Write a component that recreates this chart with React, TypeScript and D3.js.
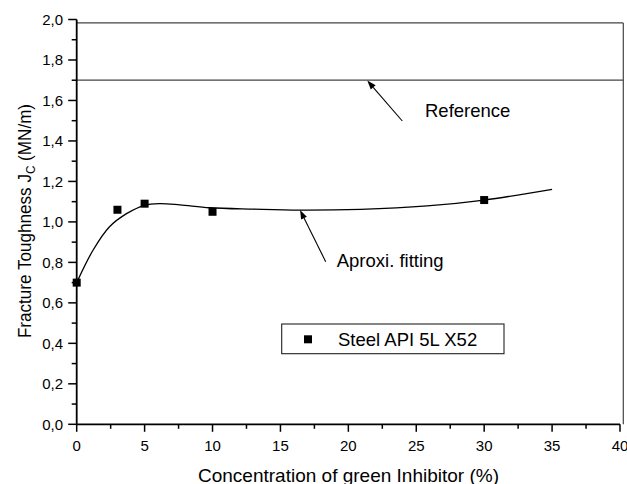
import React from "react";
import * as d3 from "d3";

const xTicks = [0, 5, 10, 15, 20, 25, 30, 35, 40];
const yTicks = [0, 0.2, 0.4, 0.6, 0.8, 1.0, 1.2, 1.4, 1.6, 1.8, 2.0];
const xMinor = [2.5, 7.5, 12.5, 17.5, 22.5, 27.5, 32.5, 37.5];
const yMinor = [0.1, 0.3, 0.5, 0.7, 0.9, 1.1, 1.3, 1.5, 1.7, 1.9];

const concentration = [0, 3, 5, 10, 30];
const toughness = [0.70, 1.06, 1.09, 1.05, 1.108];

const fitX = [0, 1.2, 2.4, 3.7, 5, 6.1, 7.6, 9.8, 13, 16.4, 20.9, 25.8, 30, 35];
const fitY = [0.70, 0.86, 0.975, 1.042, 1.082, 1.09, 1.084, 1.07, 1.063, 1.058, 1.062, 1.079, 1.108, 1.161];

const referenceValue = 1.70;
const frameTopValue = 1.983;

const FONT = "'Liberation Sans', Arial, sans-serif";

export default function App() {
  const W = 627, H = 484;
  const x = d3.scaleLinear().domain([0, 40]).range([76.7, 620]);
  const y = d3.scaleLinear().domain([0, 2]).range([424.3, 19.5]);
  const frameRight = 623.3;

  const line = d3
    .line<number>()
    .x((_, i) => x(fitX[i]))
    .y((d) => y(d))
    .curve(d3.curveCatmullRom.alpha(0.5));

  const fmt = (v: number) => v.toFixed(1).replace(".", ",");

  const arrow = (x1: number, y1: number, x2: number, y2: number) => {
    const ang = Math.atan2(y2 - y1, x2 - x1);
    const len = 9, half = 3.2;
    const bx = x2 - len * Math.cos(ang), by = y2 - len * Math.sin(ang);
    const px = -Math.sin(ang) * half, py = Math.cos(ang) * half;
    return (
      <g>
        <line x1={x1} y1={y1} x2={bx} y2={by} stroke="#000" strokeWidth={1.1} />
        <polygon points={`${x2},${y2} ${bx + px},${by + py} ${bx - px},${by - py}`} fill="#000" />
      </g>
    );
  };

  return (
    <svg width={W} height={H} style={{ position: "absolute", left: 0, top: 0, background: "#fff" }} fontFamily={FONT}>
      {/* frame lines */}
      <line x1={x(0)} x2={frameRight} y1={y(frameTopValue)} y2={y(frameTopValue)} stroke="#444" strokeWidth={1.2} />
      <line x1={frameRight} x2={frameRight} y1={y(frameTopValue)} y2={y(0)} stroke="#444" strokeWidth={1.2} />
      <line x1={x(0)} x2={frameRight} y1={y(referenceValue)} y2={y(referenceValue)} stroke="#444" strokeWidth={1.2} />

      {/* y axis */}
      <line x1={x(0)} x2={x(0)} y1={y(0)} y2={y(2)} stroke="#000" strokeWidth={1.8} />
      {yTicks.map((t) => (
        <g key={"yt" + t}>
          <line x1={x(0) - 8.5} x2={x(0)} y1={y(t)} y2={y(t)} stroke="#000" strokeWidth={1.5} />
          <text x={63} y={y(t)} dy="0.36em" textAnchor="end" fontSize={15} fill="#000">
            {fmt(t)}
          </text>
        </g>
      ))}
      {yMinor.map((t) => (
        <line key={"ym" + t} x1={x(0) - 5} x2={x(0)} y1={y(t)} y2={y(t)} stroke="#000" strokeWidth={1.5} />
      ))}

      {/* x axis */}
      <line x1={x(0)} x2={x(40)} y1={y(0)} y2={y(0)} stroke="#000" strokeWidth={1.8} />
      {xTicks.map((t) => (
        <g key={"xt" + t}>
          <line x1={x(t)} x2={x(t)} y1={y(0)} y2={y(0) + 7.5} stroke="#000" strokeWidth={1.5} />
          <text x={x(t)} y={450.7} textAnchor="middle" fontSize={15} fill="#000">
            {t}
          </text>
        </g>
      ))}
      {xMinor.map((t) => (
        <line key={"xm" + t} x1={x(t)} x2={x(t)} y1={y(0)} y2={y(0) + 4.5} stroke="#000" strokeWidth={1.5} />
      ))}

      {/* axis titles */}
      <text x={348.5} y={481.5} textAnchor="middle" fontSize={19} fill="#000">
        Concentration of green Inhibitor (%)
      </text>
      <text transform="translate(30.5,221) rotate(-90) scale(0.9,1)" textAnchor="middle" fontSize={19} fill="#000">
        Fracture Toughness J
        <tspan fontSize={13} dy={4}>C</tspan>
        <tspan dy={-4}> (MN/m)</tspan>
      </text>

      {/* fitting curve */}
      <path d={line(fitY) || ""} fill="none" stroke="#000" strokeWidth={1.3} />

      {/* data points */}
      {concentration.map((c, i) => (
        <rect key={"p" + i} x={x(c) - 4} y={y(toughness[i]) - 4} width={8} height={8} fill="#000" />
      ))}

      {/* annotations */}
      {arrow(402.3, 121, 367.3, 80.5)}
      <text x={425} y={116.7} fontSize={18.5} fill="#000">Reference</text>
      {arrow(325.7, 261.7, 300, 210)}
      <text x={336.7} y={266.7} fontSize={18.5} fill="#000">Aproxi. fitting</text>

      {/* legend */}
      <rect x={281.7} y={324} width={222.3} height={29.7} fill="#fff" stroke="#222" strokeWidth={1.1} />
      <rect x={304} y={335.3} width={8} height={8} fill="#000" />
      <text x={338} y={346} fontSize={18.5} fill="#000">Steel API 5L X52</text>
    </svg>
  );
}
